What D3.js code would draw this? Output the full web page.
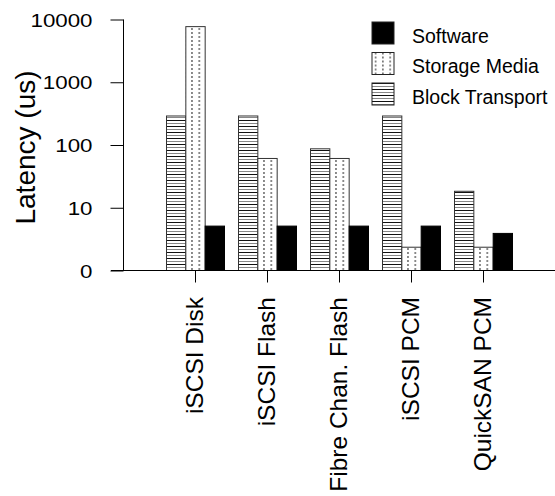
<!DOCTYPE html>
<html>
<head>
<meta charset="utf-8">
<script src="https://cdn.jsdelivr.net/npm/d3@7"></script>
<style>
  body { margin: 0; background: #fff; }
  svg { display: block; font-family: "Liberation Sans", Arial, sans-serif; }
</style>
</head>
<body>
<svg id="chart" width="555" height="496"></svg>
<script>
// data
var categories = ["iSCSI Disk", "iSCSI Flash", "Fibre Chan. Flash", "iSCSI PCM", "QuickSAN PCM"];
var series = ["Block Transport", "Storage Media", "Software"];
var blockTransport = [290, 290, 87, 290, 18.3];
var storageMedia = [7700, 61, 61, 2.35, 2.35];
var software = [5.1, 5.1, 5.1, 5.1, 3.9];
var yTicks = [1, 10, 100, 1000, 10000];
var yTickLabels = ["0", "10", "100", "1000", "10000"];
var legendOrder = ["Software", "Storage Media", "Block Transport"];

var values = [blockTransport, storageMedia, software];

var svg = d3.select("#chart");
var defs = svg.append("defs");

// horizontal stripes (block transport)
var pStripe = defs.append("pattern").attr("id", "stripes")
  .attr("patternUnits", "userSpaceOnUse").attr("width", 6).attr("height", 6);
pStripe.append("rect").attr("width", 6).attr("height", 6).attr("fill", "#fff");
pStripe.append("line").attr("x1", 0).attr("x2", 6).attr("y1", 0.5).attr("y2", 0.5)
  .attr("stroke", "#111").attr("stroke-width", 1);
pStripe.append("line").attr("x1", 0).attr("x2", 6).attr("y1", 3.5).attr("y2", 3.5)
  .attr("stroke", "#888").attr("stroke-width", 1);

// vertical dotted lines (storage media)
var pDots = defs.append("pattern").attr("id", "dots")
  .attr("patternUnits", "userSpaceOnUse").attr("width", 7.3).attr("height", 4);
pDots.append("rect").attr("width", 7.3).attr("height", 4).attr("fill", "#fff");
pDots.append("line").attr("x1", 3.6).attr("x2", 3.6).attr("y1", 0).attr("y2", 2)
  .attr("stroke", "#444").attr("stroke-width", 1.2);

var fills = {
  "Block Transport": "url(#stripes)",
  "Storage Media": "url(#dots)",
  "Software": "#000"
};

var axisX = 123.5, baseY = 270.5;
var x0 = d3.scaleBand().domain(categories).range([axisX + 36, axisX + 396])
  .paddingInner(14 / 72).paddingOuter(7 / 72);
var x1 = d3.scaleBand().domain(series).range([0, x0.bandwidth()]);
var y = d3.scaleLog().domain([1, 10000]).range([baseY, 19.5]);

// bars
var groups = svg.selectAll("g.grp").data(categories).enter().append("g")
  .attr("class", "grp")
  .attr("transform", function(d) { return "translate(" + x0(d) + ",0)"; });

groups.selectAll("rect").data(function(d, i) {
  return series.map(function(s, j) { return {s: s, v: values[j][i]}; });
}).enter().append("rect")
  .attr("x", function(d) { return x1(d.s); })
  .attr("y", function(d) { return y(d.v); })
  .attr("width", x1.bandwidth())
  .attr("height", function(d) { return baseY - y(d.v); })
  .attr("fill", function(d) { return fills[d.s]; })
  .attr("stroke", function(d) { return d.s == "Software" ? "#000" : "#333"; })
  .attr("stroke-width", 1);

// y axis
var yAxis = d3.axisLeft(y).tickValues(yTicks)
  .tickFormat(function(d, i) { return yTickLabels[i]; })
  .tickSize(13).tickPadding(0);
var gy = svg.append("g").attr("transform", "translate(" + axisX + ",0)").call(yAxis);
gy.select(".domain").remove();
gy.append("line").attr("x1", 0).attr("x2", 0).attr("y1", y(10000)).attr("y2", baseY)
  .attr("stroke", "#000");
gy.selectAll(".tick line").attr("stroke", "#000");
gy.selectAll(".tick text").attr("fill", "#000").attr("font-size", 18.6)
  .attr("text-anchor", "end")
  .attr("x", null).attr("dy", "0.36em")
  .attr("transform", "translate(-31,0) scale(1.2,1)");

// x axis
var xAxis = d3.axisBottom(x0).tickSize(12).tickFormat("");
var gx = svg.append("g").attr("transform", "translate(0," + baseY + ")").call(xAxis);
gx.select(".domain").remove();
gx.append("line").attr("x1", 111).attr("x2", 555).attr("y1", 0).attr("y2", 0)
  .attr("stroke", "#000");
gx.selectAll(".tick line").attr("stroke", "#000");

svg.selectAll("text.xlab").data(categories).enter().append("text")
  .attr("class", "xlab")
  .attr("transform", function(d) {
    return "translate(" + (x0(d) + x0.bandwidth() / 2) + ",297) rotate(-90)";
  })
  .attr("text-anchor", "end")
  .attr("dy", "0.32em")
  .attr("font-size", 24.5)
  .text(function(d) { return d; });

// y label
svg.append("text")
  .attr("transform", "translate(25,147.5) rotate(-90)")
  .attr("text-anchor", "middle")
  .attr("dy", "0.35em")
  .attr("font-size", 28)
  .text("Latency (us)");

// legend
var leg = svg.selectAll("g.leg").data(legendOrder).enter().append("g")
  .attr("class", "leg")
  .attr("transform", function(d, i) { return "translate(372," + (22 + i * 30.5) + ")"; });
leg.append("rect").attr("width", 22).attr("height", 22)
  .attr("fill", function(d) { return fills[d]; })
  .attr("stroke", "#222").attr("stroke-width", 1);
leg.append("text").attr("x", 40).attr("y", 14).attr("dy", "0.35em")
  .attr("font-size", 19.5)
  .text(function(d) { return d; });
</script>
</body>
</html>
